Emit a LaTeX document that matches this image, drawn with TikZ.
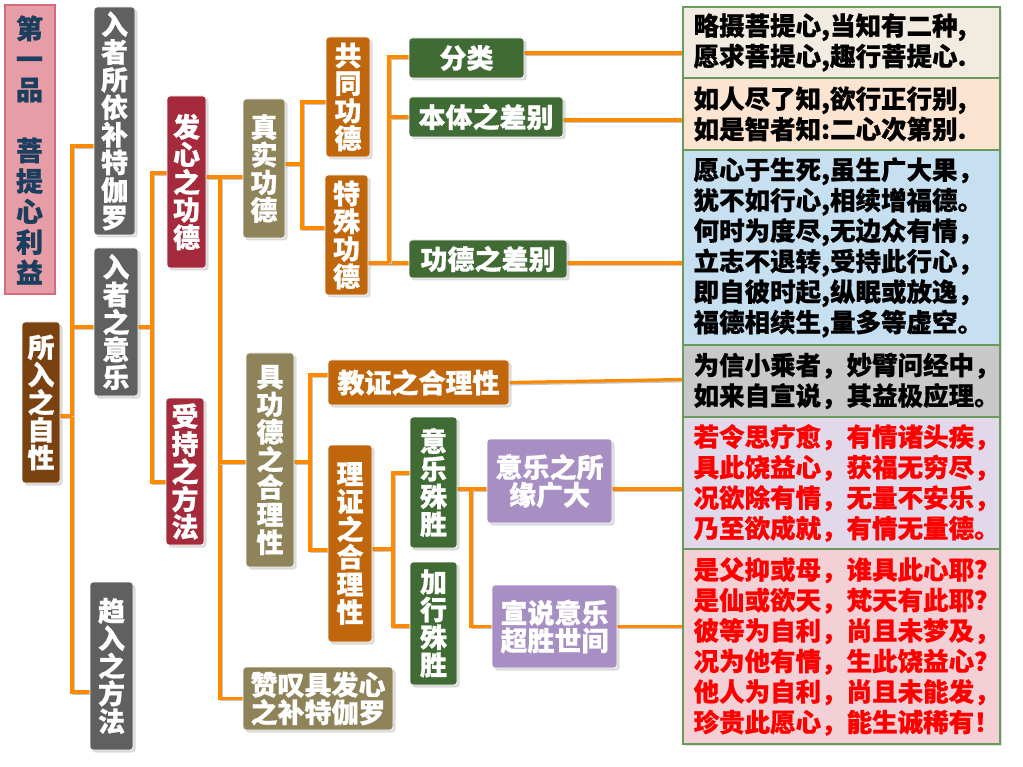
\documentclass[tikz,border=0pt]{standalone}
\usepackage{fontspec}
\newfontfamily\cjkb{Noto Sans CJK SC Black}[FakeBold=0.7]
\usetikzlibrary{shadows,backgrounds}
\definecolor{cgray}{HTML}{606060}
\definecolor{cbrown}{HTML}{7B4211}
\definecolor{cred}{HTML}{A52B3C}
\definecolor{ctan}{HTML}{8F8359}
\definecolor{corange}{HTML}{C0670E}
\definecolor{cgreen}{HTML}{416B35}
\definecolor{cpurple}{HTML}{A78FC3}
\definecolor{cline}{HTML}{FF8A00}
\definecolor{ctitle}{HTML}{E79DA6}
\definecolor{ctitleb}{HTML}{D66B7B}
\definecolor{cnavy}{HTML}{1B3E5E}
\definecolor{rowa}{HTML}{F2EBE0}
\definecolor{rowb}{HTML}{FDE4D0}
\definecolor{rowc}{HTML}{C6E0F1}
\definecolor{rowd}{HTML}{C8C8C8}
\definecolor{rowe}{HTML}{E1D9E9}
\definecolor{rowf}{HTML}{F2D0D6}
\definecolor{rowborder}{HTML}{6A9A5E}
\definecolor{cwarn}{HTML}{FF0000}
\begin{document}
\begin{tikzpicture}[x=1pt,y=-1pt,
  base/.style={rounded corners=3pt, draw=white, line width=0.8pt, text=white, inner sep=0pt, align=center,
    font=\cjkb\fontsize{27}{27.6}\selectfont,
    drop shadow={shadow xshift=2.5pt,shadow yshift=-2.5pt,opacity=0.28}},
  graybox/.style={base, fill=cgray},
  brownbox/.style={base, fill=cbrown},
  redbox/.style={base, fill=cred},
  tanbox/.style={base, fill=ctan},
  orangebox/.style={base, fill=corange},
  greenbox/.style={base, fill=cgreen},
  purplebox/.style={base, fill=cpurple},
  conn/.style={draw=cline, line width=3.2pt,
    preaction={draw=black!22, line width=3.2pt, transform canvas={xshift=1.3pt,yshift=-1.3pt}}},
  rowbox/.style={draw=rowborder, line width=1.2pt, minimum width=317pt, inner sep=0pt,
    drop shadow={shadow xshift=2pt,shadow yshift=-2pt,opacity=0.25}},
  rowtext/.style={inner sep=0pt, align=left, anchor=west, font=\cjkb\fontsize{25.5}{30.5}\selectfont}
]
\useasboundingbox (0,0) rectangle (1023,767);

% title
\node[draw=ctitleb, line width=2pt, fill=ctitle, minimum width=50pt, minimum height=289pt,
  inner sep=0pt, text=cnavy, align=center, font=\cjkb\fontsize{27}{30.5}\selectfont]
  (title) at (29.5,150) {第\\一\\品\\[30.5pt]菩\\提\\心\\利\\益};

% level nodes
\node[brownbox, minimum width=38pt, minimum height=161pt] (sr) at (41,402.5) {所\\入\\之\\自\\性};
\node[graybox, minimum width=41pt, minimum height=228pt] (n1) at (114.5,121) {入\\者\\所\\依\\补\\特\\伽\\罗};
\node[graybox, minimum width=44pt, minimum height=148pt] (n2) at (116,322) {入\\者\\之\\意\\乐};
\node[graybox, minimum width=43pt, minimum height=168pt] (n3) at (111.5,666) {趋\\入\\之\\方\\法};
\node[redbox, minimum width=39pt, minimum height=172pt] (m1) at (186.5,182) {发\\心\\之\\功\\德};
\node[redbox, minimum width=38pt, minimum height=147pt] (m2) at (185,471.5) {受\\持\\之\\方\\法};
\node[tanbox, minimum width=42pt, minimum height=139pt] (k1) at (264,168.5) {真\\实\\功\\德};
\node[tanbox, minimum width=48pt, minimum height=214pt] (k2) at (270,460) {具\\功\\德\\之\\合\\理\\性};
\node[tanbox, minimum width=150pt, minimum height=63pt] (k3) at (318,698.5) {赞叹具发心\\之补特伽罗};
\node[orangebox, minimum width=44pt, minimum height=120pt] (g1) at (348,97) {共\\同\\功\\德};
\node[orangebox, minimum width=43pt, minimum height=120pt] (g2) at (346.5,235) {特\\殊\\功\\德};
\node[greenbox, minimum width=115pt, minimum height=40pt] (h1) at (466.5,58) {分类};
\node[greenbox, minimum width=154pt, minimum height=40pt] (h2) at (486,117) {本体之差别};
\node[greenbox, minimum width=158pt, minimum height=38pt] (h3) at (488,259) {功德之差别};
\node[orangebox, minimum width=181pt, minimum height=45pt] (j1) at (418.5,382.5) {教证之合理性};
\node[orangebox, minimum width=44pt, minimum height=197pt] (j2) at (350,543.5) {理\\证\\之\\合\\理\\性};
\node[greenbox, minimum width=47pt, minimum height=131pt] (p1) at (433.5,482.5) {意\\乐\\殊\\胜};
\node[greenbox, minimum width=47pt, minimum height=123pt] (p2) at (433.5,623.5) {加\\行\\殊\\胜};
\node[purplebox, minimum width=125pt, minimum height=84pt] (q1) at (549.5,481) {意乐之所\\缘广大};
\node[purplebox, minimum width=125pt, minimum height=83pt] (q2) at (554.5,626.5) {宣说意乐\\超胜世间};

% verse rows
\node[rowbox, fill=rowa, minimum height=71pt] (r1) at (841.5,42.5) {};
\node[rowbox, fill=rowb, minimum height=72pt] (r2) at (841.5,114) {};
\node[rowbox, fill=rowc, minimum height=195pt] (r3) at (841.5,247.5) {};
\node[rowbox, fill=rowd, minimum height=72pt] (r4) at (841.5,381) {};
\node[rowbox, fill=rowe, minimum height=132pt] (r5) at (841.5,483) {};
\node[rowbox, fill=rowf, minimum height=195pt] (r6) at (841.5,646.5) {};

\node[rowtext] (r1t) at ([xshift=11pt]r1.west) {略摄菩提心,当知有二种,\\愿求菩提心,趣行菩提心.};
\node[rowtext] (r2t) at ([xshift=11pt]r2.west) {如人尽了知,欲行正行别,\\如是智者知:二心次第别.};
\node[rowtext] (r3t) at ([xshift=11pt]r3.west) {愿心于生死,虽生广大果，\\犹不如行心,相续增福德。\\何时为度尽,无边众有情，\\立志不退转,受持此行心，\\即自彼时起,纵眠或放逸，\\福德相续生,量多等虚空。};
\node[rowtext] (r4t) at ([xshift=11pt]r4.west) {为信小乘者，妙臂问经中，\\如来自宣说，其益极应理。};
\node[rowtext, text=cwarn] (r5t) at ([xshift=11pt]r5.west) {若令思疗愈，有情诸头疾，\\具此饶益心，获福无穷尽，\\况欲除有情，无量不安乐，\\乃至欲成就，有情无量德。};
\node[rowtext, text=cwarn] (r6t) at ([xshift=11pt]r6.west) {是父抑或母，谁具此心耶？\\是仙或欲天，梵天有此耶？\\彼等为自利，尚且未梦及，\\况为他有情，生此饶益心？\\他人为自利，尚且未能发，\\珍贵此愿心，能生诚稀有！};

% connectors
\begin{scope}[on background layer]
\fill[white] (0,0) rectangle (1023,767);
\coordinate (tA) at (72,416);
\coordinate (tB) at (152,327);
\coordinate (tC) at (220,177);
\coordinate (tD) at (302,164);
\coordinate (tE) at (389,263);
\coordinate (tF) at (310,462);
\coordinate (tG) at (393,549);
\coordinate (tH) at (471,489);

\draw[conn] ([yshift=-13.5pt]sr.east) -- (tA);
\draw[conn] ([yshift=-25pt]n1.west) -| (tA) |- ([yshift=-26pt]n3.west);
\draw[conn] (tA) |- ([yshift=-5pt]n2.west);

\draw[conn] ([yshift=-5pt]n2.east) -- (tB);
\draw[conn] ([yshift=9pt]m1.west) -| (tB) |- ([yshift=-10.5pt]m2.west);

\draw[conn] ([yshift=5pt]m1.east) -- ([yshift=-8.5pt]k1.west);
\draw[conn] (tC) |- (k3.west);
\draw[conn] (tC) |- ([yshift=-2pt]k2.west);

\draw[conn] ([yshift=4.5pt]k1.east) -- (tD);
\draw[conn] ([yshift=-5pt]g1.west) -| (tD) |- ([yshift=7pt]g2.west);

\draw[conn] ([yshift=-28pt]g2.east) -- (tE);
\draw[conn] ([yshift=1pt]h1.west) -| (tE) |- ([yshift=-4pt]h3.west);
\draw[conn] (tE) |- (h2.west);

\draw[conn] ([yshift=-2pt]k2.east) -- (tF);
\draw[conn] ([yshift=7.5pt]j1.west) -| (tF) |- ([yshift=-6.5pt]j2.west);

\draw[conn] ([yshift=-5.5pt]j2.east) -- (tG);
\draw[conn] ([yshift=9.5pt]p1.west) -| (tG) |- ([yshift=-2.5pt]p2.west);

\draw[conn] ([yshift=-6.5pt]p1.east) -- ([yshift=-8pt]q1.west);
\draw[conn] (tH) |- (q2.west);

\draw[conn] ([yshift=5pt]h1.east) -- ([yshift=-10.5pt]r1.west);
\draw[conn] ([yshift=-3pt]h2.east) -- ([yshift=-6pt]r2.west);
\draw[conn] ([yshift=-4pt]h3.east) -- ([yshift=-15.5pt]r3.west);
\draw[conn] (j1.east) -- ([yshift=1.5pt]r4.west);
\draw[conn] ([yshift=-8pt]q1.east) -- ([yshift=-6pt]r5.west);
\draw[conn] (q2.east) -- ([yshift=20pt]r6.west);
\end{scope}
\end{tikzpicture}
\end{document}
